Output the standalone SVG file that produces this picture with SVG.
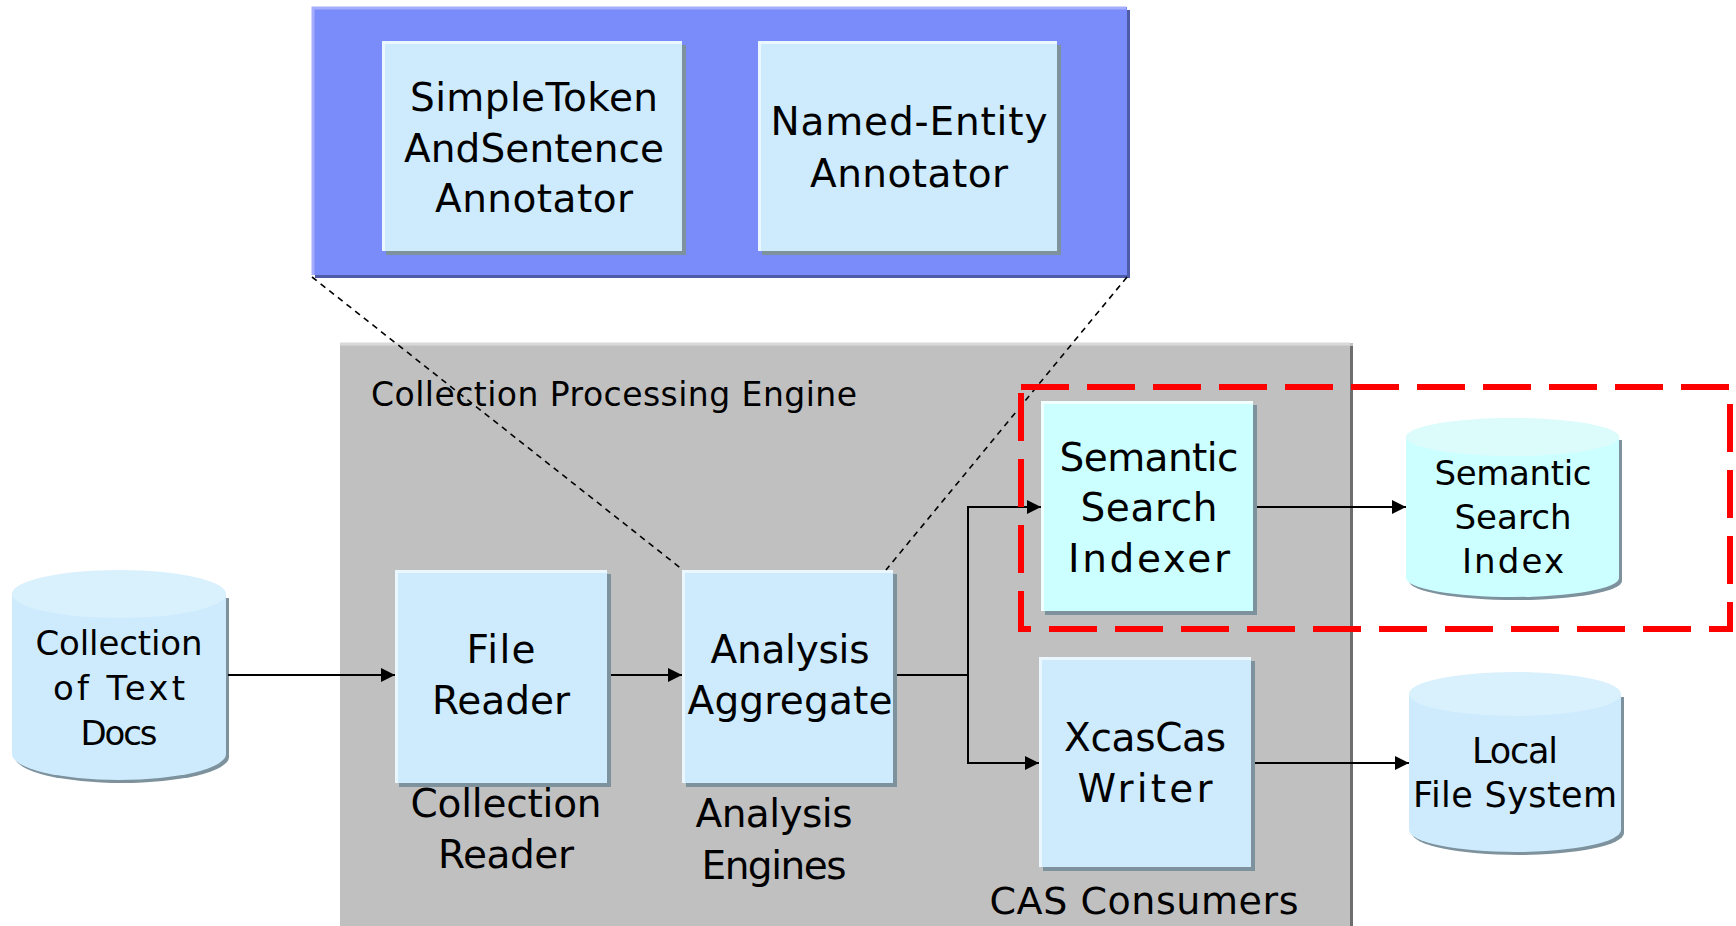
<svg xmlns="http://www.w3.org/2000/svg" width="1736" height="926" viewBox="0 0 1736 926">
<defs>
<style>
text{font-family:"DejaVu Sans","Liberation Sans",sans-serif;fill:#000;text-anchor:middle}
.b{font-size:39px}
.m{font-size:34px}
.box{fill:#cdebfd}
.cy{fill:#ccffff}
.sh{fill:#7d929d}
.hl{fill:none;stroke:#eaf7ff;stroke-width:3}
.cn{fill:none;stroke:#000;stroke-width:2}
.dl{fill:none;stroke:#000;stroke-width:1.6;stroke-dasharray:6 5}
</style>
<marker id="ah" viewBox="0 0 14 14" refX="14" refY="7" markerWidth="14" markerHeight="14" markerUnits="userSpaceOnUse" orient="auto">
<path d="M0,0 L14,7 L0,14 Z" fill="#000"/>
</marker>
</defs>
<rect width="1736" height="926" fill="#fff"/>

<g id="cpe">
<rect x="340" y="343" width="1013" height="590" fill="#c0c0c0"/>
<path d="M340,344 H1350" stroke="#d9d9d9" stroke-width="3" fill="none"/>
<path d="M1351.5,346 V926" stroke="#6e6e6e" stroke-width="3" fill="none"/>
<text x="614" y="406" font-size="33" textLength="486">Collection Processing Engine</text>
</g>

<g id="aggregate-detail">
<rect x="315" y="10" width="815" height="268" fill="#4d5ba8"/>
<rect x="312" y="7" width="815" height="268" fill="#7a8bfa"/>
<path d="M313,275 V8 H1126" stroke="#a4aefc" stroke-width="3" fill="none"/>
</g>

<g id="simpletoken">
<rect x="386" y="45" width="300" height="210" class="sh"/>
<rect x="382" y="41" width="300" height="210" class="box"/>
<path d="M383.5,251 V42.5 H682" class="hl"/>
<text class="b" x="534" y="111" textLength="248">SimpleToken</text>
<text class="b" x="534" y="162" textLength="260">AndSentence</text>
<text class="b" x="534" y="212" textLength="198">Annotator</text>
</g>

<g id="namedentity">
<rect x="762" y="45" width="299" height="210" class="sh"/>
<rect x="758" y="41" width="299" height="210" class="box"/>
<path d="M759.5,251 V42.5 H1057" class="hl"/>
<text class="b" x="909" y="135" textLength="277">Named-Entity</text>
<text class="b" x="909" y="187" textLength="198">Annotator</text>
</g>

<g id="collection-docs">
<path d="M15,598 V757 A107,26 0 0 0 229,757 V598 Z" class="sh"/>
<path d="M12,595 V754 A107,26 0 0 0 226,754 V595 Z" class="box"/>
<ellipse cx="119" cy="594" rx="107" ry="24" fill="#d9f0fd"/>
<text x="119" y="655" font-size="34" textLength="167">Collection</text>
<text x="119" y="700" font-size="34" textLength="132">of Text</text>
<text x="119" y="745" font-size="34" textLength="77">Docs</text>
</g>

<g id="file-reader">
<rect x="399" y="574" width="212" height="213" class="sh"/>
<rect x="395" y="570" width="212" height="213" class="box"/>
<path d="M396.5,783 V571.5 H607" class="hl"/>
<text class="b" x="501" y="663" textLength="69">File</text>
<text class="b" x="501" y="714" textLength="138">Reader</text>
<text class="b" x="506" y="817" textLength="191">Collection</text>
<text class="b" x="506" y="868" textLength="136">Reader</text>
</g>

<g id="analysis-aggregate">
<rect x="686" y="574" width="211" height="213" class="sh"/>
<rect x="682" y="570" width="211" height="213" class="box"/>
<path d="M683.5,783 V571.5 H893" class="hl"/>
<text class="b" x="790" y="663" textLength="159">Analysis</text>
<text class="b" x="790" y="714" textLength="205">Aggregate</text>
<text class="b" x="774" y="827" textLength="157">Analysis</text>
<text class="b" x="774" y="879" textLength="145">Engines</text>
</g>

<g id="semantic-indexer">
<rect x="1045" y="405" width="212" height="210" class="sh"/>
<rect x="1041" y="401" width="212" height="210" class="cy"/>
<path d="M1042.5,611 V402.5 H1253" stroke="#f2ffff" stroke-width="3" fill="none"/>
<text class="b" x="1149" y="471" textLength="179">Semantic</text>
<text class="b" x="1149" y="521" textLength="137">Search</text>
<text class="b" x="1149" y="572" textLength="162">Indexer</text>
</g>

<g id="xcascas-writer">
<rect x="1043" y="661" width="212" height="210" class="sh"/>
<rect x="1039" y="657" width="212" height="210" class="box"/>
<path d="M1040.5,867 V658.5 H1251" class="hl"/>
<text class="b" x="1145" y="751" textLength="162">XcasCas</text>
<text class="b" x="1145" y="802" textLength="135">Writer</text>
<text x="1144" y="914" font-size="38" textLength="309">CAS Consumers</text>
</g>

<g id="semantic-index">
<path d="M1409,440 V581 A106.5,19 0 0 0 1622,581 V440 Z" class="sh"/>
<path d="M1406,437 V578 A106.5,19 0 0 0 1619,578 V437 Z" class="cy"/>
<ellipse cx="1512.5" cy="437" rx="106.5" ry="19" fill="#dcfbfb"/>
<text class="m" x="1513" y="485" textLength="157">Semantic</text>
<text class="m" x="1513" y="529" textLength="117">Search</text>
<text class="m" x="1513" y="573" textLength="102">Index</text>
</g>

<g id="local-fs">
<path d="M1412,697 V833 A106,22 0 0 0 1624,833 V697 Z" class="sh"/>
<path d="M1409,694 V830 A106,22 0 0 0 1621,830 V694 Z" class="box"/>
<ellipse cx="1515" cy="694" rx="106" ry="22" fill="#d9f0fd"/>
<text x="1515" y="763" font-size="35" textLength="86">Local</text>
<text x="1515" y="807" font-size="35" textLength="204">File System</text>
</g>

<g id="connectors">
<path class="cn" d="M228,675 H395" marker-end="url(#ah)"/>
<path class="cn" d="M611,675 H682" marker-end="url(#ah)"/>
<path class="cn" d="M897,675 H968 V507 H1041" marker-end="url(#ah)"/>
<path class="cn" d="M968,675 V763 H1039" marker-end="url(#ah)"/>
<path class="cn" d="M1257,507 H1406" marker-end="url(#ah)"/>
<path class="cn" d="M1255,763 H1409" marker-end="url(#ah)"/>
<path class="dl" d="M312,277 L683,570"/>
<path class="dl" d="M1127,277 L886,570"/>
</g>

<g id="highlight">
<rect x="1021" y="387" width="709" height="242" fill="none" stroke="#ff0000" stroke-width="6" stroke-dasharray="48 18"/>
</g>
</svg>
